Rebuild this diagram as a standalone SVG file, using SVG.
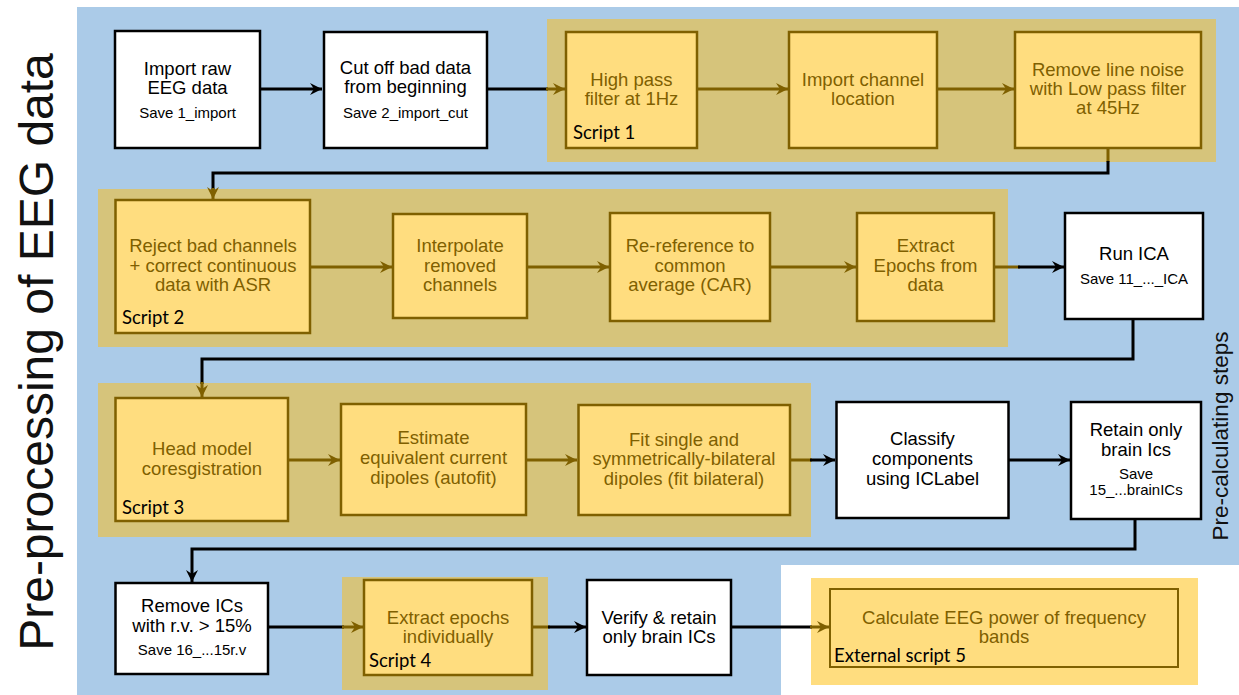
<svg xmlns="http://www.w3.org/2000/svg" width="1239" height="695" viewBox="0 0 1239 695">
  <style>
    .bg{fill:#ABCBE8}
    .panel{fill:#D6C47B}
    .wnode{fill:#FFFFFF;stroke:#000000;stroke-width:2.5}
    .ynode{fill:#FFDD7F;stroke:#7F6000;stroke-width:2.5}
    .t{font-family:"Liberation Sans",Arial,sans-serif;font-size:18.5px;text-anchor:middle}
    .tw{fill:#000000}
    .ty{fill:#7F6000}
    .s{font-size:15px}
    .lbl{font-family:Lato,"Liberation Sans",sans-serif;font-size:18.5px;fill:#000000}
    .k{fill:none;stroke:#000000;stroke-width:3}
    .o{fill:none;stroke:#7F6000;stroke-width:3}
    .title{font-family:"Liberation Sans",Arial,sans-serif;fill:#111111;text-anchor:middle}
  </style>
  <defs>
    <marker id="ahK" markerUnits="userSpaceOnUse" markerWidth="14" markerHeight="14" refX="13" refY="7" orient="auto">
      <path d="M1,1 L13,7 L1,13 L5,7 Z" fill="#000000"/>
    </marker>
    <marker id="ahO" markerUnits="userSpaceOnUse" markerWidth="14" markerHeight="14" refX="13" refY="7" orient="auto">
      <path d="M1,1 L13,7 L1,13 L5,7 Z" fill="#7F6000"/>
    </marker>
  </defs>

  <!-- background area -->
  <path class="bg" d="M77,7 H1239 V565 H781 V695 H77 Z"/>

  <!-- titles -->
  <text class="title" font-size="48" transform="translate(53,352) rotate(-90)">Pre-processing of EEG data</text>
  <text class="title" font-size="22.5" transform="translate(1228,436) rotate(-90)">Pre-calculating steps</text>

  <!-- script panels -->
  <g id="script1">
    <rect class="panel" x="547" y="19" width="669" height="143"/>
  </g>
  <g id="script2">
    <rect class="panel" x="98" y="189" width="910" height="158"/>
  </g>
  <g id="script3">
    <rect class="panel" x="98" y="383" width="713" height="154"/>
  </g>
  <g id="script4">
    <rect class="panel" x="342" y="577" width="206" height="113"/>
  </g>
  <g id="script5">
    <rect x="811" y="578" width="387" height="107" fill="#FFDD7F"/>
  </g>

  <!-- connectors -->
  <g id="connectors">
    <line class="k" x1="260" y1="89" x2="322" y2="89" marker-end="url(#ahK)"/>
    <line class="k" x1="487" y1="89" x2="548" y2="89"/>
    <line class="o" x1="546" y1="89" x2="565" y2="89" marker-end="url(#ahO)"/>
    <line class="o" x1="697" y1="89" x2="788" y2="89" marker-end="url(#ahO)"/>
    <line class="o" x1="937" y1="89" x2="1014" y2="89" marker-end="url(#ahO)"/>

    <line class="o" x1="1108" y1="149" x2="1108" y2="162"/>
    <path class="k" d="M1108,161 V173 H213 V190"/>
    <line class="o" x1="213" y1="188" x2="213" y2="199" marker-end="url(#ahO)"/>

    <line class="o" x1="310" y1="267" x2="392" y2="267" marker-end="url(#ahO)"/>
    <line class="o" x1="527" y1="267" x2="609" y2="267" marker-end="url(#ahO)"/>
    <line class="o" x1="770" y1="267" x2="856" y2="267" marker-end="url(#ahO)"/>
    <line class="o" x1="994" y1="267" x2="1020" y2="267"/>
    <line class="k" x1="1018" y1="267" x2="1064" y2="267" marker-end="url(#ahK)"/>

    <path class="k" d="M1133,320 V359 H202 V384"/>
    <line class="o" x1="202" y1="382" x2="202" y2="397" marker-end="url(#ahO)"/>

    <line class="o" x1="288" y1="460" x2="340" y2="460" marker-end="url(#ahO)"/>
    <line class="o" x1="526" y1="460" x2="577" y2="460" marker-end="url(#ahO)"/>
    <line class="o" x1="790" y1="460" x2="812" y2="460"/>
    <line class="k" x1="810" y1="460" x2="835" y2="460" marker-end="url(#ahK)"/>
    <line class="k" x1="1008" y1="460" x2="1070" y2="460" marker-end="url(#ahK)"/>

    <path class="k" d="M1135,520 V549 H192 V582" marker-end="url(#ahK)"/>

    <line class="k" x1="268" y1="627" x2="344" y2="627"/>
    <line class="o" x1="342" y1="627" x2="363" y2="627" marker-end="url(#ahO)"/>
    <line class="o" x1="532" y1="627" x2="550" y2="627"/>
    <line class="k" x1="548" y1="627" x2="586" y2="627" marker-end="url(#ahK)"/>
    <line class="k" x1="731" y1="627" x2="812" y2="627"/>
    <line class="o" x1="810" y1="627" x2="829" y2="627" marker-end="url(#ahO)"/>
  </g>

  <!-- row 1 -->
  <g id="import-raw">
    <rect class="wnode" x="115" y="31" width="145" height="117"/>
    <text class="t tw"><tspan x="187.5" y="75">Import raw</tspan><tspan x="187.5" y="94">EEG data</tspan></text>
    <text class="t tw s" x="187.5" y="118">Save 1_import</text>
  </g>
  <g id="cut-bad-data">
    <rect class="wnode" x="324" y="32" width="163" height="116"/>
    <text class="t tw"><tspan x="405.5" y="74">Cut off bad data</tspan><tspan x="405.5" y="93">from beginning</tspan></text>
    <text class="t tw s" x="405.5" y="118">Save 2_import_cut</text>
  </g>
  <g id="high-pass">
    <rect class="ynode" x="566" y="32" width="131" height="116"/>
    <text class="t ty"><tspan x="631.5" y="86">High pass</tspan><tspan x="631.5" y="105">filter at 1Hz</tspan></text>
    <text class="lbl" x="573" y="139">Script 1</text>
  </g>
  <g id="channel-location">
    <rect class="ynode" x="789" y="32" width="148" height="116"/>
    <text class="t ty"><tspan x="863" y="86">Import channel</tspan><tspan x="863" y="105">location</tspan></text>
  </g>
  <g id="line-noise">
    <rect class="ynode" x="1015" y="32" width="186" height="116"/>
    <text class="t ty"><tspan x="1108" y="76">Remove line noise</tspan><tspan x="1108" y="95">with Low pass filter</tspan><tspan x="1108" y="114">at 45Hz</tspan></text>
  </g>

  <!-- row 2 -->
  <g id="reject-channels">
    <rect class="ynode" x="115.5" y="200" width="194.5" height="133"/>
    <text class="t ty"><tspan x="213" y="252">Reject bad channels</tspan><tspan x="213" y="272">+ correct continuous</tspan><tspan x="213" y="291">data with ASR</tspan></text>
    <text class="lbl" x="122" y="324">Script 2</text>
  </g>
  <g id="interpolate">
    <rect class="ynode" x="393" y="214" width="134" height="104"/>
    <text class="t ty"><tspan x="460" y="252">Interpolate</tspan><tspan x="460" y="272">removed</tspan><tspan x="460" y="291">channels</tspan></text>
  </g>
  <g id="re-reference">
    <rect class="ynode" x="610" y="213" width="160" height="108"/>
    <text class="t ty"><tspan x="690" y="252">Re-reference to</tspan><tspan x="690" y="272">common</tspan><tspan x="690" y="291">average (CAR)</tspan></text>
  </g>
  <g id="extract-epochs">
    <rect class="ynode" x="857" y="213" width="137" height="108"/>
    <text class="t ty"><tspan x="925.5" y="252">Extract</tspan><tspan x="925.5" y="272">Epochs from</tspan><tspan x="925.5" y="291">data</tspan></text>
  </g>
  <g id="run-ica">
    <rect class="wnode" x="1065" y="213" width="138" height="106"/>
    <text class="t tw" x="1134" y="260">Run ICA</text>
    <text class="t tw s" x="1134" y="284">Save 11_..._ICA</text>
  </g>

  <!-- row 3 -->
  <g id="head-model">
    <rect class="ynode" x="115.5" y="398" width="172.5" height="123"/>
    <text class="t ty"><tspan x="202" y="455">Head model</tspan><tspan x="202" y="475">coresgistration</tspan></text>
    <text class="lbl" x="122" y="514">Script 3</text>
  </g>
  <g id="estimate-dipoles">
    <rect class="ynode" x="341" y="404" width="185" height="111"/>
    <text class="t ty"><tspan x="433.5" y="444">Estimate</tspan><tspan x="433.5" y="464">equivalent current</tspan><tspan x="433.5" y="484">dipoles (autofit)</tspan></text>
  </g>
  <g id="fit-bilateral">
    <rect class="ynode" x="578.5" y="405" width="211.5" height="110"/>
    <text class="t ty"><tspan x="684" y="446">Fit single and</tspan><tspan x="684" y="465">symmetrically-bilateral</tspan><tspan x="684" y="485">dipoles (fit bilateral)</tspan></text>
  </g>
  <g id="classify">
    <rect class="wnode" x="836.5" y="402" width="172" height="116"/>
    <text class="t tw"><tspan x="922.5" y="445">Classify</tspan><tspan x="922.5" y="465">components</tspan><tspan x="922.5" y="485">using ICLabel</tspan></text>
  </g>
  <g id="retain-brain">
    <rect class="wnode" x="1071" y="402" width="130" height="117"/>
    <text class="t tw"><tspan x="1136" y="436">Retain only</tspan><tspan x="1136" y="456">brain Ics</tspan></text>
    <text class="t tw s"><tspan x="1136" y="479">Save</tspan><tspan x="1136" y="495">15_...brainICs</tspan></text>
  </g>

  <!-- row 4 -->
  <g id="remove-ics">
    <rect class="wnode" x="115.5" y="583" width="152.5" height="91"/>
    <text class="t tw"><tspan x="192" y="612">Remove ICs</tspan><tspan x="192" y="632">with r.v. &gt; 15%</tspan></text>
    <text class="t tw s" x="192" y="655">Save 16_...15r.v</text>
  </g>
  <g id="extract-individually">
    <rect class="ynode" x="364" y="580" width="168" height="95"/>
    <text class="t ty"><tspan x="448" y="624">Extract epochs</tspan><tspan x="448" y="643">individually</tspan></text>
    <text class="lbl" x="369" y="667">Script 4</text>
  </g>
  <g id="verify-brain">
    <rect class="wnode" x="587" y="580" width="144" height="95"/>
    <text class="t tw"><tspan x="659" y="624">Verify &amp; retain</tspan><tspan x="659" y="643">only brain ICs</tspan></text>
  </g>
  <g id="eeg-power">
    <rect x="830" y="589" width="348" height="78" fill="#FFDD7F" stroke="#7F6000" stroke-width="2"/>
    <text class="t ty"><tspan x="1004" y="624">Calculate EEG power of frequency</tspan><tspan x="1004" y="643">bands</tspan></text>
    <text class="lbl" x="834" y="662" font-size="20">External script 5</text>
  </g>
</svg>
